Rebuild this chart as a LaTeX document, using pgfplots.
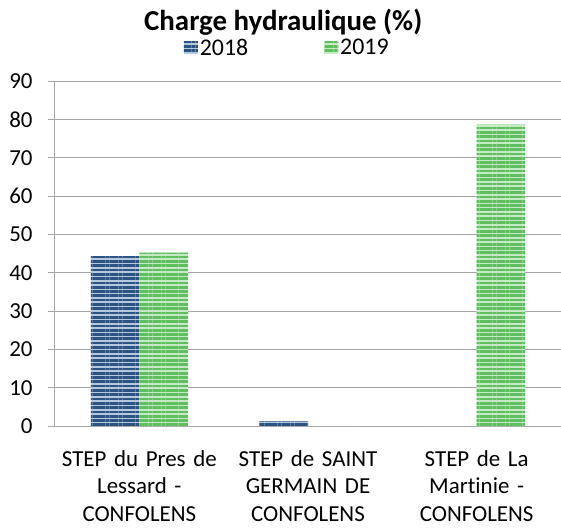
\documentclass[border=0pt]{standalone}
\usepackage{fontspec}
\setmainfont{Carlito}[Ligatures=NoCommon]
\usepackage{pgfplots}
\pgfplotsset{compat=1.18}
\usetikzlibrary{patterns.meta}
\definecolor{bdark}{HTML}{2D5383}
\definecolor{blight}{HTML}{B4C8E0}
\definecolor{gdark}{HTML}{5FBF5F}
\definecolor{glight}{HTML}{C6EAC6}
\definecolor{gridc}{HTML}{A6A6A6}
\begin{document}
\begin{tikzpicture}
\useasboundingbox (-55bp,-102bp) rectangle (506bp,426bp);
\begin{axis}[
  at={(0,0)}, anchor=south west,
  scale only axis,
  width=506bp, height=345bp,
  xmin=-0.5, xmax=2.5,
  ymin=0, ymax=90,
  ytick distance=10,
  ybar=0pt, bar width=0.2876,
  axis lines*=left,
  axis line style={-, draw=gridc, line width=1bp},
  ymajorgrids, grid style={draw=gridc, line width=1bp},
  ytick pos=left, tick align=outside,
  major tick length=7bp,
  y tick style={draw=gridc, line width=1bp},
  xtick={0,1,2},
  xtick style={draw=none},
  xticklabels={STEP du Pres de\\Lessard -\\CONFOLENS, STEP de SAINT\\GERMAIN DE\\CONFOLENS, STEP de La\\Martinie -\\CONFOLENS},
  x tick label style={align=center, text width=170bp, font=\fontsize{23}{27.5}\selectfont, yshift=-14bp},
  y tick label style={font=\fontsize{23}{27}\selectfont, xshift=-12bp},
  /pgf/number format/assume math mode=true,
  legend columns=2,
  legend style={draw=none, fill=none, at={(0.459,1)}, anchor=south, yshift=20bp, font=\fontsize{24}{26}\selectfont, /tikz/every even column/.append style={column sep=74bp}},
  legend image code/.code={\draw[#1, draw=none] (0bp,-6bp) rectangle (14bp,6bp);},
  title={\textbf{Charge hydraulique (\%)}},
  title style={font=\fontsize{29}{34}\selectfont, at={(0.451,1)}, anchor=base, yshift=45bp},
  clip=false,
]
\addplot[draw=none, preaction={fill=blight}, pattern={Lines[angle=0, distance=4.3bp, line width=2.7bp]}, pattern color=bdark]
  coordinates {(0,44.3) (1,1.2) (2,0)};
\addlegendentry{2018}
\addplot[draw=none, preaction={fill=glight}, pattern={Lines[angle=0, distance=4.3bp, line width=2.7bp]}, pattern color=gdark]
  coordinates {(0,45.2) (1,0) (2,78.6)};
\addlegendentry{2019}
\end{axis}
\end{tikzpicture}
\end{document}
